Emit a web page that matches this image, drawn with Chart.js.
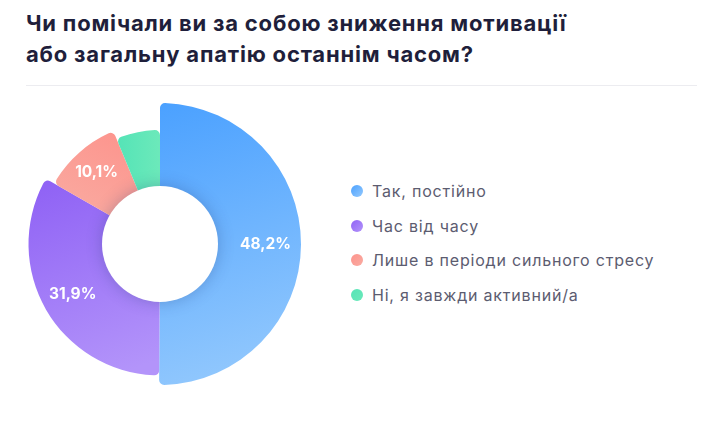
<!DOCTYPE html>
<html lang="uk">
<head>
<meta charset="utf-8">
<script src="https://cdn.jsdelivr.net/npm/chart.js@4"></script>
<style>
  body { margin: 0; background: #fff; width: 720px; height: 442px; position: relative; overflow: hidden; font-family: Inter, "Noto Sans", sans-serif; }
  .title { position: absolute; left: 26px; top: 8px; font-size: 22px; font-weight: 700; line-height: 31px; color: #1f1f3b; letter-spacing: 0.8px; }
  .sep { position: absolute; left: 26px; top: 85px; width: 671px; height: 1px; background: #ececf0; }
  .chart { position: absolute; left: 0; top: 94px; width: 320px; height: 300px; }
  .legend { position: absolute; left: 351px; top: 180px; }
  .legend div { height: 34.5px; display: flex; align-items: center; font-size: 16px; letter-spacing: 0.8px; color: #5c5c70; transform: translateY(-6px); }
  .legend span { width: 12px; height: 12px; border-radius: 50%; margin-right: 9px; flex: none; }
</style>
</head>
<body>
<div class="title">Чи помічали ви за собою зниження мотивації<br>або загальну апатію останнім часом?</div>
<div class="sep"></div>
<div class="chart"><canvas id="pie"></canvas></div>
<div class="legend" id="legend"></div>
<script>
const labels = ['Так, постійно', 'Час від часу', 'Лише в періоди сильного стресу', 'Ні, я завжди активний/а'];
const values = [48.2, 31.9, 10.1, 6.0];

// кольори (від темного до світлого) і радіуси сегментів
const colorsFrom = ['#4ba1ff', '#9063f5', '#fd938c', '#56e4b7'];
const colorsTo = ['#94c9fd', '#b394fa', '#f9aca2', '#6ce9ba'];
const outerRadii = [141, 131.5, 122, 114];
const innerRadius = 58;

// легенда
const legendDiv = document.getElementById('legend');
labels.forEach((l, i) => {
    legendDiv.innerHTML += `<div><span style="background:linear-gradient(135deg, ${colorsFrom[i]}, ${colorsTo[i]})"></span>${l}</div>`;
});

function sliceGradient(chart, i) {
    const area = chart.chartArea;
    if (!area) return colorsFrom[i];
    const cx = (area.left + area.right) / 2;
    const cy = (area.top + area.bottom) / 2;
    const c = chart.ctx;
    let g;
    if (i === 0) g = c.createLinearGradient(cx, cy - 140, cx + 90, cy + 140);
    else if (i === 1) g = c.createLinearGradient(cx - 110, cy - 60, cx - 40, cy + 130);
    else if (i === 2) g = c.createLinearGradient(cx - 40, cy - 120, cx - 90, cy - 20);
    else g = c.createLinearGradient(cx - 40, cy - 110, cx, cy - 110);
    g.addColorStop(0, colorsFrom[i]);
    g.addColorStop(1, colorsTo[i]);
    return g;
}

const varyRadius = {
    id: 'varyRadius',
    afterDatasetsUpdate(chart) {
        chart.getDatasetMeta(0).data.forEach((arc, i) => {
            arc.outerRadius = outerRadii[i];
        });
    },
    afterDatasetsDraw(chart) {
        const ctx = chart.ctx;
        const meta = chart.getDatasetMeta(0);
        const first = meta.data[0];
        // тінь навколо отвору
        ctx.save();
        ctx.beginPath();
        ctx.arc(first.x, first.y, innerRadius, 0, Math.PI * 2);
        ctx.fillStyle = '#fff';
        ctx.shadowColor = 'rgba(30, 50, 110, 0.28)';
        ctx.shadowBlur = 16;
        ctx.fill();
        ctx.restore();

        // підписи відсотків
        ctx.save();
        ctx.fillStyle = '#fff';
        ctx.font = '700 15.5px Inter, "Noto Sans", sans-serif';
        ctx.textAlign = 'center';
        ctx.textBaseline = 'middle';
        meta.data.forEach((arc, i) => {
            if (values[i] < 8) return;
            const mid = (arc.startAngle + arc.endAngle) / 2;
            const r = (innerRadius + arc.outerRadius) / 2 + 6;
            const text = values[i].toFixed(1).replace('.', ',') + '%';
            ctx.fillText(text, arc.x + Math.cos(mid) * r, arc.y + Math.sin(mid) * r);
        });
        ctx.restore();
    }
};

new Chart(document.getElementById('pie'), {
    type: 'doughnut',
    data: {
        labels: labels,
        datasets: [{
            data: values,
            backgroundColor: ctx => sliceGradient(ctx.chart, ctx.dataIndex),
            borderWidth: 0,
            borderRadius: { outerStart: 5, outerEnd: 5, innerStart: 0, innerEnd: 0 },
            radius: 141,
            cutout: innerRadius
        }]
    },
    options: {
        responsive: true,
        maintainAspectRatio: false,
        animation: false,
        layout: { padding: 0 },
        plugins: {
            legend: { display: false },
            tooltip: { enabled: false }
        }
    },
    plugins: [varyRadius]
});
</script>
</body>
</html>
